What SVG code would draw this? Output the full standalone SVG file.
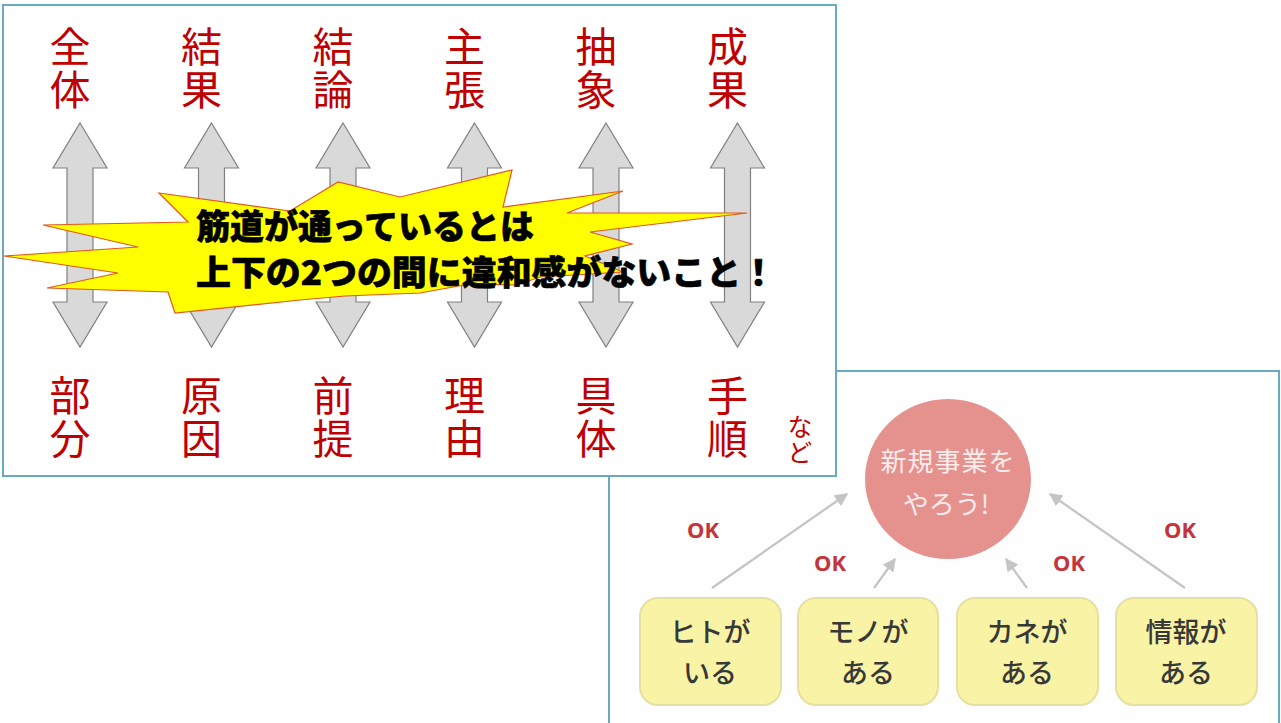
<svg xmlns="http://www.w3.org/2000/svg" width="1281" height="723" viewBox="0 0 1281 723">
<defs>
<style>
.lbl{font-family:"Noto Sans CJK JP","Noto Sans",sans-serif;font-size:41px;fill:#c00000;writing-mode:vertical-rl;letter-spacing:2px}
.dbl{fill:#d9d9d9;stroke:#808080;stroke-width:1.2}
.box{fill:#f9f3a6;stroke:#e6dfa2;stroke-width:2}
.bt{font-family:"Noto Sans CJK JP","Noto Sans",sans-serif;font-size:27px;font-weight:500;fill:#383838;text-anchor:middle}
.ok{font-family:"Noto Sans","Liberation Sans",sans-serif;font-size:22px;font-weight:700;fill:#c4343b;text-anchor:middle}
.con{stroke:#c4c4c4;stroke-width:2.2;fill:none;marker-end:url(#ah)}
.ct{font-family:"Noto Sans CJK JP","Noto Sans",sans-serif;font-size:26px;font-weight:400;fill:#fcecec;text-anchor:middle}
.burst{font-family:"Noto Sans CJK JP","Noto Sans",sans-serif;font-size:34px;font-weight:900;fill:#000;stroke:#000;stroke-width:0.6;stroke-linejoin:round}
</style>
<marker id="ah" viewBox="0 0 10 10" refX="9" refY="5" markerWidth="6" markerHeight="6" orient="auto" markerUnits="strokeWidth">
<path d="M0,0 L10,5 L0,10 Z" fill="#c4c4c4"/>
</marker>
<polygon id="darr" points="0,123 27,168 13,168 13,302 27,302 0,347 -27,302 -13,302 -13,168 -27,168" class="dbl"/>
</defs>
<rect x="0" y="0" width="1281" height="723" fill="#ffffff"/>

<g id="panel2">
<rect x="609" y="371" width="670" height="360" fill="#fefefe" stroke="#6aaabf" stroke-width="2"/>
</g>

<g id="connectors">
<line class="con" x1="712" y1="588" x2="847" y2="494"/>
<line class="con" x1="874" y1="588" x2="895" y2="559"/>
<line class="con" x1="1027" y1="588" x2="1006" y2="559"/>
<line class="con" x1="1185" y1="588" x2="1050" y2="494"/>
</g>

<g id="goal">
<ellipse cx="948" cy="479" rx="83" ry="80" fill="#e5928f"/>
<text class="ct" x="948" y="471" letter-spacing="1">新規事業を</text>
<text class="ct" x="946" y="514">やろう!</text>
</g>

<g id="ok-labels">
<text class="ok" x="703" y="538">OK</text>
<text class="ok" x="830" y="571">OK</text>
<text class="ok" x="1069" y="571">OK</text>
<text class="ok" x="1180" y="538">OK</text>
</g>

<g id="box-hito">
<rect class="box" x="640" y="598" width="141" height="107" rx="18"/>
<text class="bt" x="710" y="642">ヒトが</text>
<text class="bt" x="710" y="683">いる</text>
</g>
<g id="box-mono">
<rect class="box" x="798" y="598" width="140" height="107" rx="18"/>
<text class="bt" x="868" y="642">モノが</text>
<text class="bt" x="868" y="683">ある</text>
</g>
<g id="box-kane">
<rect class="box" x="957" y="598" width="141" height="107" rx="18"/>
<text class="bt" x="1027" y="642">カネが</text>
<text class="bt" x="1027" y="683">ある</text>
</g>
<g id="box-joho">
<rect class="box" x="1116" y="598" width="141" height="107" rx="18"/>
<text class="bt" x="1186" y="642">情報が</text>
<text class="bt" x="1186" y="683">ある</text>
</g>

<g id="panel1">
<rect x="3" y="5" width="833" height="471" fill="#ffffff" stroke="#6aaabf" stroke-width="2"/>
</g>

<g id="col1">
<text class="lbl" x="70" y="26">全体</text>
<use href="#darr" x="80"/>
<text class="lbl" x="70" y="375">部分</text>
</g>
<g id="col2">
<text class="lbl" x="201.5" y="26">結果</text>
<use href="#darr" x="211.5"/>
<text class="lbl" x="201.5" y="375">原因</text>
</g>
<g id="col3">
<text class="lbl" x="333" y="26">結論</text>
<use href="#darr" x="343"/>
<text class="lbl" x="333" y="375">前提</text>
</g>
<g id="col4">
<text class="lbl" x="464.5" y="26">主張</text>
<use href="#darr" x="474.5"/>
<text class="lbl" x="464.5" y="375">理由</text>
</g>
<g id="col5">
<text class="lbl" x="596" y="26">抽象</text>
<use href="#darr" x="606"/>
<text class="lbl" x="596" y="375">具体</text>
</g>
<g id="col6">
<text class="lbl" x="727.5" y="26">成果</text>
<use href="#darr" x="737.5"/>
<text class="lbl" x="727.5" y="375">手順</text>
</g>
<g id="nado">
<text x="800" y="414" font-family="Noto Sans CJK JP, sans-serif" font-size="25" fill="#c00000" writing-mode="vertical-rl" letter-spacing="1">など</text>
</g>

<g id="starburst">
<polygon points="4,256 138,247 43,225 188,222 159,193 290,211 338,182 400,197 512,170 503,207 623,191 567,213 747,213 590,232 632,244 585,256 623,272 540,277 517,285 470,284 420,293 345,296 300,300 175,313 168,292 47,288 118,273" fill="#ffff00" stroke="#e2581e" stroke-width="1.2" stroke-linejoin="miter"/>
<text class="burst" x="196" y="239" textLength="338" lengthAdjust="spacingAndGlyphs">筋道が通っているとは</text>
<text class="burst" x="196" y="285" textLength="580" lengthAdjust="spacingAndGlyphs">上下の2つの間に違和感がないこと！</text>
</g>
</svg>
